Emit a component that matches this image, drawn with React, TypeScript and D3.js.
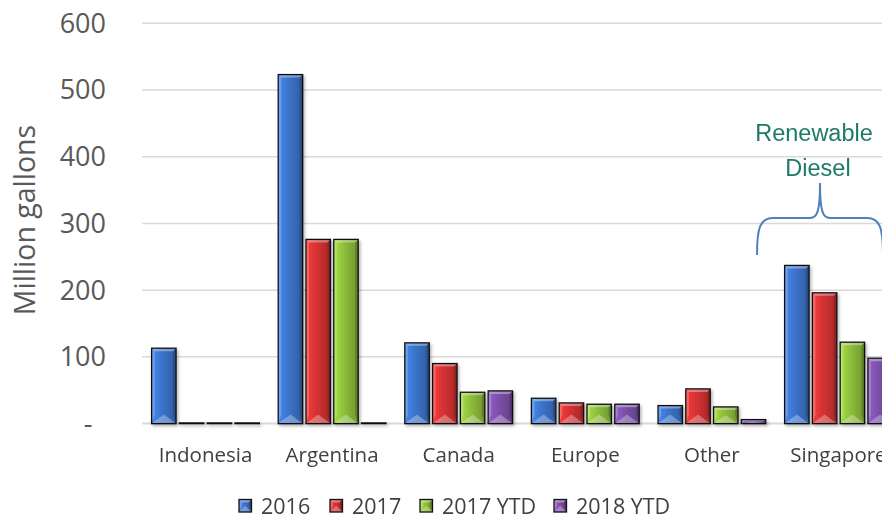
import React from "react";
import * as d3 from "d3";

const categories = ["Indonesia", "Argentina", "Canada", "Europe", "Other", "Singapore"];
const seriesNames = ["2016", "2017", "2017 YTD", "2018 YTD"];
const v2016 = [113, 523, 121, 38, 27, 237];
const v2017 = [1, 276, 90, 31, 52, 196];
const v2017YTD = [1, 276, 47, 29, 25, 122];
const v2018YTD = [1, 1, 49, 29, 6, 98];
const seriesColors = ["#3b72c8", "#d23232", "#8cbb3a", "#7b4fa8"];
const yTicks = [0, 100, 200, 300, 400, 500, 600];

const seriesValues = [v2016, v2017, v2017YTD, v2018YTD];

const W = 882;
const H = 517;
const FONT = "'Open Sans', 'Liberation Sans', sans-serif";
const ANNOT_FONT = "'Liberation Sans', Arial, sans-serif";

function BevelRect({ x, y, w, h, gid }: any) {
  const t = Math.min(3, h / 2, w / 2);
  const bb = Math.min(9, h / 2, w / 2);
  const s = Math.min(3, w / 2);
  return (
    <g>
      <rect x={x} y={y} width={w} height={h} fill={`url(#${gid})`} />
      {h > 2 && (
        <>
          <polygon points={`${x},${y} ${x + s},${y + t} ${x + s},${y + h - bb} ${x},${y + h}`} fill="#fff" opacity={0.22} />
          <polygon points={`${x + w},${y} ${x + w - s},${y + t} ${x + w - s},${y + h - bb} ${x + w},${y + h}`} fill="#000" opacity={0.18} />
          <polygon points={`${x},${y} ${x + w},${y} ${x + w - s},${y + t} ${x + s},${y + t}`} fill="#fff" opacity={0.35} />
          <polygon points={`${x},${y + h} ${x + w},${y + h} ${x + w / 2},${y + h - bb}`} fill="#fff" opacity={0.3} />
        </>
      )}
      <rect x={x} y={y} width={w} height={h} fill="none" stroke="#111" strokeWidth={1.3} />
    </g>
  );
}

export default function App() {
  const x0 = d3.scaleBand<string>().domain(categories).range([142.2, 901.8]).paddingInner(0.14).paddingOuter(0.07);
  const x1 = d3.scaleBand<string>().domain(seriesNames).range([0, x0.bandwidth()]).paddingInner(0.12).paddingOuter(0.02);
  const y = d3.scaleLinear().domain([0, 600]).range([423.6, 23.2]);
  const legendX = [239, 330, 420, 554];

  return (
    <svg width={W} height={H} style={{ position: "absolute", left: 0, top: 0, background: "#fff" }} fontFamily={FONT}>
      <defs>
        {seriesColors.map((c, i) => {
          const base = d3.color(c)!;
          return (
            <linearGradient key={i} id={`g${i}`} x1="0" x2="1" y1="0" y2="0">
              <stop offset="0" stopColor={base.brighter(0.5).formatHex()} />
              <stop offset="0.45" stopColor={c} />
              <stop offset="1" stopColor={base.darker(0.6).formatHex()} />
            </linearGradient>
          );
        })}
        <filter id="shadow" x="-20%" y="-5%" width="150%" height="115%">
          <feDropShadow dx="1.5" dy="2" stdDeviation="1.8" floodColor="#000" floodOpacity="0.3" />
        </filter>
      </defs>

      {/* gridlines */}
      {yTicks.map((t) => (
        <line key={t} x1={142.2} x2={W} y1={y(t)} y2={y(t)} stroke="#d9d9d9" strokeWidth={t === 0 ? 2 : 1.5} />
      ))}

      {/* y tick labels */}
      {yTicks.map((t) => (
        <text
          key={t}
          x={t === 0 ? 88 : 106}
          y={y(t)}
          dy="0.35em"
          textAnchor={t === 0 ? "middle" : "end"}
          fontSize={27}
          fill="#595959"
        >
          {t === 0 ? "-" : d3.format("d")(t)}
        </text>
      ))}

      {/* y title */}
      <text transform="translate(25,220) rotate(-90)" textAnchor="middle" dy="0.35em" fontSize={28.5} fill="#595959">
        Million gallons
      </text>

      {/* bars */}
      <g filter="url(#shadow)">
        {categories.map((cat, ci) => (
          <g key={cat} transform={`translate(${x0(cat)},0)`}>
            {seriesNames.map((s, si) => {
              const v = seriesValues[si][ci];
              const bx = x1(s)!;
              const by = y(v);
              return <BevelRect key={s} x={bx} y={by} w={x1.bandwidth()} h={y(0) - by} gid={`g${si}`} />;
            })}
          </g>
        ))}
      </g>

      {/* x labels */}
      {categories.map((cat) => (
        <text key={cat} x={x0(cat)! + x0.bandwidth() / 2} y={455} dy="0.35em" textAnchor="middle" fontSize={20.5} fill="#404040">
          {cat}
        </text>
      ))}

      {/* annotation */}
      <text x={814} y={133} dy="0.35em" textAnchor="middle" fontSize={23.5} fill="#1d7a66" fontFamily={ANNOT_FONT}>
        Renewable
      </text>
      <text x={818} y={168} dy="0.35em" textAnchor="middle" fontSize={23.5} fill="#1d7a66" fontFamily={ANNOT_FONT}>
        Diesel
      </text>
      <path
        d="M757,255 C757,228 760,218 773,218 L810,218 C817,218 820,212 820,183 C820,212 823,218 830,218 L867,218 C880,218 883,228 883,255"
        fill="none"
        stroke="#4f81bd"
        strokeWidth={2}
      />

      {/* legend */}
      {seriesNames.map((s, si) => {
        const lx = legendX[si];
        return (
          <g key={s}>
            <BevelRect x={lx} y={499.5} w={12.5} h={12.5} gid={`g${si}`} />
            <text x={lx + 22} y={506} dy="0.35em" fontSize={21.5} fill="#404040">
              {s}
            </text>
          </g>
        );
      })}
    </svg>
  );
}
